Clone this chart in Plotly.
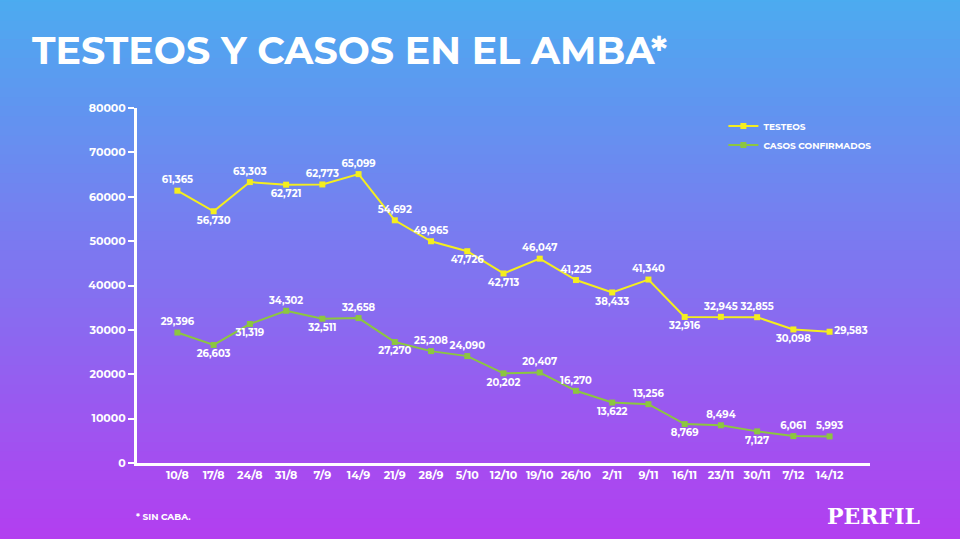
import plotly.graph_objects as go

fechas = ["10/8", "17/8", "24/8", "31/8", "7/9", "14/9", "21/9", "28/9", "5/10",
          "12/10", "19/10", "26/10", "2/11", "9/11", "16/11", "23/11", "30/11",
          "7/12", "14/12"]
testeos = [61365, 56730, 63303, 62721, 62773, 65099, 54692, 49965, 47726,
           42713, 46047, 41225, 38433, 41340, 32916, 32945, 32855, 30098, 29583]
casos = [29396, 26603, 31319, 34302, 32511, 32658, 27270, 25208, 24090,
         20202, 20407, 16270, 13622, 13256, 8769, 8494, 7127, 6061, 5993]

pos_testeos = ["top center", "bottom center", "top center", "bottom center",
               "top center", "top center", "top center", "top center",
               "bottom center", "bottom center", "top center", "top center",
               "bottom center", "top center", "bottom center", "top center",
               "top center", "bottom center", "middle right"]
pos_casos = ["top center", "bottom center", "bottom center", "top center",
             "bottom center", "top center", "bottom center", "top center",
             "top center", "bottom center", "top center", "top center",
             "bottom center", "top center", "bottom center", "top center",
             "bottom center", "top center", "top center"]

L, R, T, B = 137, 90, 108, 76
W, H = 960, 539
pw, ph = W - L - R, H - T - B

# vertical gradient background built from thin strips
top_c, bot_c = (74, 174, 240), (182, 60, 240)
shapes = []
n = 60
y_lo, y_hi = -B / ph - 0.05, 1 + T / ph + 0.05
for i in range(n):
    f = i / (n - 1)
    c = tuple(int(bot_c[k] + (top_c[k] - bot_c[k]) * f) for k in range(3))
    shapes.append(dict(type="rect", xref="paper", yref="paper", layer="below",
                       x0=-1, x1=2,
                       y0=y_lo + (y_hi - y_lo) * i / n,
                       y1=y_lo + (y_hi - y_lo) * (i + 1.05) / n,
                       fillcolor="rgb(%d,%d,%d)" % c, line=dict(width=0)))

font = "Montserrat, Lato, DejaVu Sans"


def serie(name, values, color, pos):
    return go.Scatter(
        x=fechas, y=values, name=name, mode="lines+markers+text",
        text=[f"{v:,}" for v in values], textposition=pos,
        textfont=dict(color="white", size=10, family=font, weight=700),
        line=dict(color=color, width=2),
        marker=dict(symbol="square", size=6, color=color))


fig = go.Figure([serie("TESTEOS", testeos, "#f4ee1e", pos_testeos),
                 serie("CASOS CONFIRMADOS", casos, "#8cc640", pos_casos)])

fig.update_layout(
    width=W, height=H, margin=dict(l=L, r=R, t=T, b=B),
    shapes=shapes, plot_bgcolor="rgba(0,0,0,0)", paper_bgcolor="#8a70f0",
    font=dict(family=font, color="white", weight=700),
    showlegend=True,
    legend=dict(x=0.8, y=0.99, xanchor="left", yanchor="top",
                bgcolor="rgba(0,0,0,0)",
                font=dict(size=9, color="white", weight=700),
                tracegroupgap=14),
    xaxis=dict(showgrid=False, showline=True, linecolor="white", linewidth=3,
               tickfont=dict(size=11, color="white", weight=700), ticks=""),
    yaxis=dict(range=[0, 80000], dtick=10000, showgrid=False, zeroline=False,
               showline=True, linecolor="white", linewidth=3,
               ticks="outside", tickcolor="white", ticklen=6, tickwidth=2,
               tickformat="d",
               tickfont=dict(size=11, color="white", weight=700)),
    annotations=[
        dict(text="<b>TESTEOS Y CASOS EN EL AMBA*</b>", xref="paper",
             yref="paper", x=-(L - 30) / pw, y=1 + 58 / ph, xanchor="left",
             yanchor="middle", showarrow=False,
             font=dict(size=38, color="white", family=font)),
        dict(text="* SIN CABA.", xref="paper", yref="paper", x=-3 / pw,
             y=-53 / ph, xanchor="left", yanchor="middle", showarrow=False,
             font=dict(size=9, color="white")),
        dict(text="<b>PERFIL</b>", xref="paper", yref="paper", x=1 + 52 / pw,
             y=-53 / ph, xanchor="right", yanchor="middle", showarrow=False,
             font=dict(size=22, color="white", family="DejaVu Serif")),
    ],
)

fig.write_html("out.html", config={"displayModeBar": False},
               post_script="document.body.style.margin='0';")
